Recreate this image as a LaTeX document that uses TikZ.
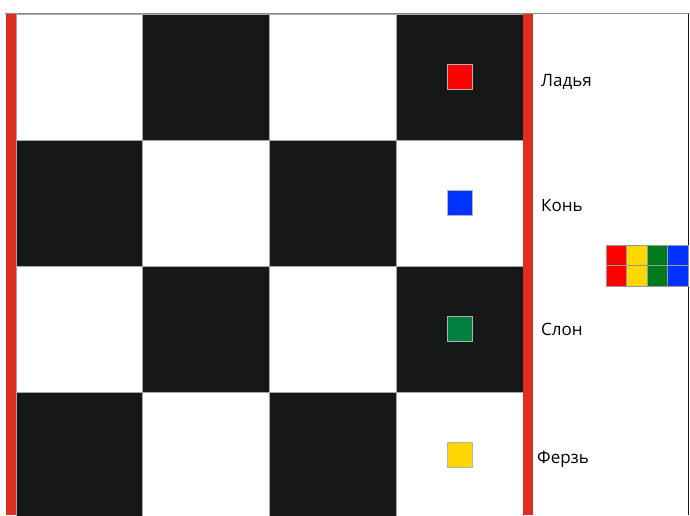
\documentclass[tikz,border=0pt]{standalone}
\usepackage{fontspec}
\setmainfont{Open Sans}
\definecolor{boardblack}{HTML}{161817}
\definecolor{barred}{HTML}{DF2E1F}
\definecolor{pred}{HTML}{FF0000}
\definecolor{pblue}{HTML}{0033FF}
\definecolor{pgreen}{HTML}{008040}
\definecolor{pyellow}{HTML}{FFD700}
\definecolor{sgreen}{HTML}{007A1E}
\begin{document}
\begin{tikzpicture}[x=1pt,y=-1pt,
  cellw/.style={fill=white,draw=gray!70,line width=0.6pt},
  cellb/.style={fill=boardblack,draw=gray!70,line width=0.6pt},
  piece/.style={draw=gray!60,line width=0.5pt,minimum size=25pt,inner sep=0pt},
  lbl/.style={anchor=west,font=\fontsize{17}{19}\selectfont,text=black,inner sep=0pt},
  strip/.style={draw=gray!80,line width=0.6pt}]
\useasboundingbox (0,0) rectangle (690,515);
\fill[white] (0,0) rectangle (690,515);
% board
\foreach \r in {0,1,2,3}{
  \foreach \c in {0,1,2,3}{
    \pgfmathtruncatemacro{\parity}{mod(\r+\c,2)}
    \ifnum\parity=0
      \path[cellw] ({16+126.75*\c},{14+126*\r}) rectangle ++(126.75,126);
    \else
      \path[cellb] ({16+126.75*\c},{14+126*\r}) rectangle ++(126.75,126);
    \fi
  }
}
% top border
\draw[gray!90,line width=1.5pt] (5,13.5) -- (690,13.5);
% right border
\draw[black!90,line width=1.8pt] (688.5,13.5) -- (688.5,515);
% red bars
\fill[barred] (6,14) rectangle (16,515);
\fill[barred] (523,14) rectangle (533,515);
% pieces
\node[piece,fill=pred] (rook) at (459.5,76.5) {};
\node[piece,fill=pblue] (knight) at (459.5,202.5) {};
\node[piece,fill=pgreen] (bishop) at (459.5,328.5) {};
\node[piece,fill=pyellow] (queen) at (459.5,454.5) {};
% labels
\node[lbl] (lrook) at (541,82) {Ладья};
\node[lbl] (lknight) at (541,205.5) {Конь};
\node[lbl] (lbishop) at (541,329.5) {Слон};
\node[lbl] (lqueen) at (537,459) {Ферзь};
% colour strip
\foreach \i/\col in {0/pred,1/pyellow,2/sgreen,3/pblue}{
  \path[strip,fill=\col] ({606+20.5*\i},245) rectangle ++(20.5,20.5);
  \path[strip,fill=\col] ({606+20.5*\i},265.5) rectangle ++(20.5,20.5);
}
\end{tikzpicture}
\end{document}
